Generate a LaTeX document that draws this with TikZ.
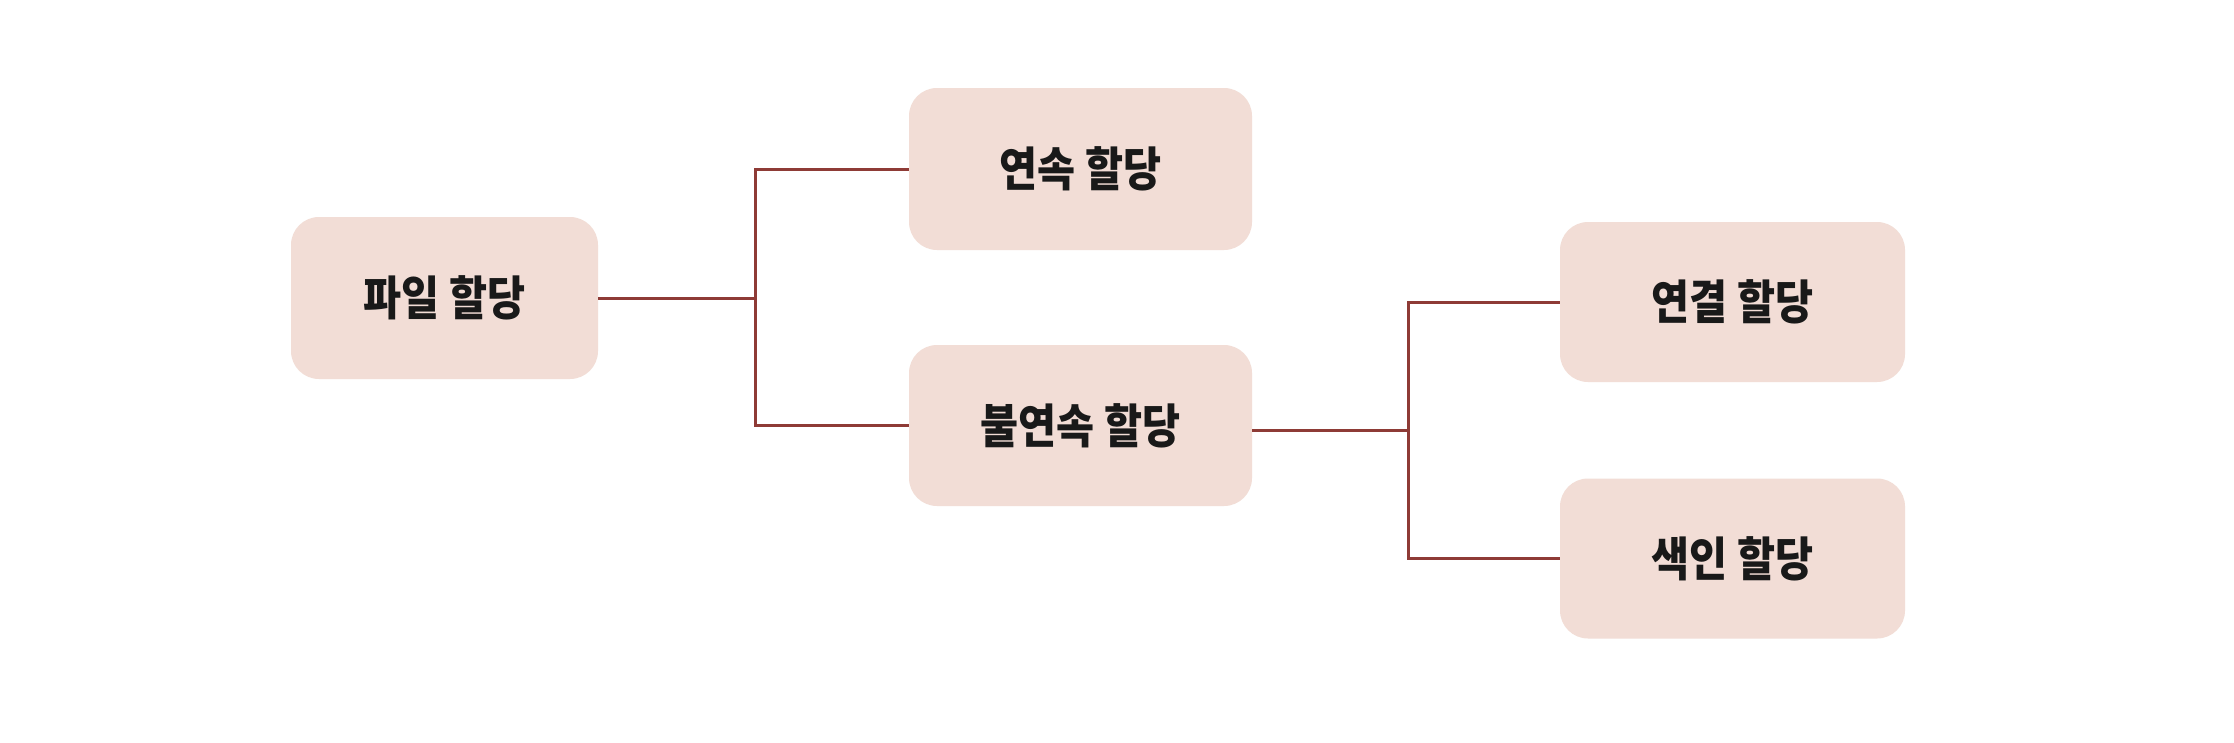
\documentclass[tikz,border=0pt]{standalone}
\usepackage{fontspec}
\setmainfont{Noto Sans CJK KR}
\newfontfamily\kr{Noto Sans CJK KR}[FakeStretch=0.88]
\usetikzlibrary{calc}
\definecolor{boxfill}{HTML}{F2DDD6}
\definecolor{linecol}{HTML}{8E3B36}
\begin{document}
\begin{tikzpicture}[x=1pt,y=-1pt,
  box/.style={fill=boxfill, draw=none, rounded corners=28pt, inner sep=0pt,
    font=\kr\fontsize{47}{50}\selectfont\bfseries, text=black!90},
  conn/.style={draw=linecol, line width=3pt}]
\useasboundingbox[fill=white] (0,0) rectangle (2234,742);
\node[box, minimum width=307pt, minimum height=162pt] (fa) at (444.5,298) {파일 할당};
\node[box, minimum width=343pt, minimum height=162pt] (yeon) at (1080.5,169) {연속 할당};
\node[box, minimum width=343pt, minimum height=161pt] (bul) at (1080.5,425.5) {불연속 할당};
\node[box, minimum width=345pt, minimum height=160pt] (gyeol) at (1732.5,302) {연결 할당};
\node[box, minimum width=345pt, minimum height=160pt] (saek) at (1732.5,558.5) {색인 할당};
\coordinate (j1) at (755,298);
\coordinate (j2) at (1408,430);
\draw[conn] (fa.east) -- (j1);
\draw[conn] (yeon.west) -| (j1);
\draw[conn] (bul.west) -| (j1);
\draw[conn] (bul.east |- j2) -- (j2);
\draw[conn] (gyeol.west) -| (j2);
\draw[conn] (saek.west) -| (j2);
\end{tikzpicture}
\end{document}
